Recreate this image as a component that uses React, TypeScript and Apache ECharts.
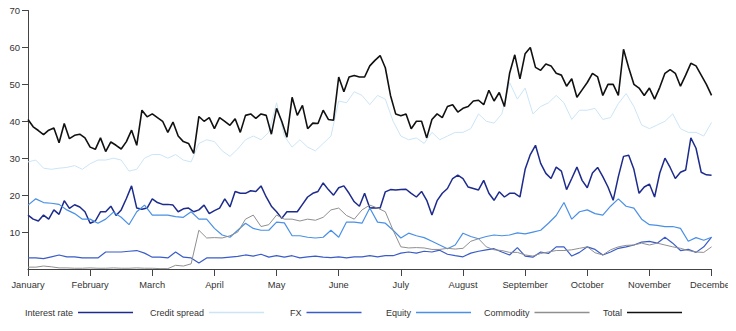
import React, { useEffect, useRef } from "react";
import * as echarts from "echarts";

const months = [
  "January", "February", "March", "April", "May", "June",
  "July", "August", "September", "October", "November", "December",
];

// Total and Interest rate: 12 readings per month (Jan..Nov) + 1 at December
const FINE_PER_MONTH = 12;
// Other series: 8 readings per month (Jan..Nov) + 1 at December
const COARSE_PER_MONTH = 8;

const total = [
  40.5, 38.5, 37.5, 36.4, 37.6, 38.2, 34.2, 39.4, 35.3, 36.2, 36.5, 35.5,
  33, 32.4, 35.5, 31.8, 34.4, 33.5, 32.5, 34.5, 37.6, 33.5, 43, 41.2,
  42, 41, 40, 37, 39.8, 36, 34.5, 34, 31.3, 41.3, 40, 41,
  38, 41, 40, 38.9, 40.7, 37, 41.6, 42, 40.8, 42, 41.6, 36.5,
  43.5, 40, 35.7, 46.5, 41.6, 44.3, 38, 39.5, 39.4, 43, 40.5, 40.3,
  52, 48, 52, 52.4, 52, 52, 55, 56.5, 57.8, 54.5, 47, 42,
  41.5, 42, 38, 40, 40, 35.5, 40.5, 42, 41, 44, 44.5, 42.5,
  43.5, 44, 45.5, 45.7, 44.5, 48.4, 45.5, 47.8, 44, 53, 58, 51.5,
  58.3, 60, 54.6, 53.8, 55.5, 55, 53, 52.5, 49.5, 51.5, 46.5, 48.5,
  50.5, 53, 52, 47, 50, 50, 47, 59.5, 54.5, 50, 49, 47,
  49, 46, 49.2, 53, 54, 53, 49.5, 52.5, 55.7, 55, 52.5, 50,
  47,
];
const interestRate = [
  14.6, 13.5, 13, 14.6, 13.5, 16, 14.8, 18.5, 16.4, 17.4, 16.8, 15.5,
  12.4, 13, 15.5, 15.5, 17, 14.5, 16, 19.1, 22.5, 16.5, 16.2, 16.5,
  19, 18, 17.5, 17.5, 17.3, 15.5, 16.3, 16.5, 15.5, 16, 17.3, 15,
  15.8, 16.5, 19, 16.8, 21, 20.5, 20.5, 21.2, 21, 22.5, 19.5, 17,
  15.5, 13.7, 15.5, 15.5, 15.5, 17.5, 19.5, 20.5, 21, 23.3, 21.5, 20,
  22, 22.5, 20.5, 18.2, 17, 20.5, 16.5, 16.6, 16.5, 20.9, 21.5, 21.4,
  21.5, 21.6, 20.5, 19.5, 21, 18.6, 14.6, 18.5, 20.5, 21.8, 24.5, 25.4,
  24.5, 22.2, 21.8, 21.4, 24, 20.5, 18.6, 20.9, 19.5, 20.5, 20.5, 19.5,
  27, 31, 33.5, 28.6, 25.9, 24.5, 27.6, 26.5, 21.5, 24.5, 27.6, 24,
  22, 26, 27.5, 25, 22.2, 18.6, 25, 30.5, 30.8, 27, 20.5, 22.2,
  23, 19.5, 26, 30, 27.5, 24.5, 26.2, 26.8, 35.5, 32.7, 26.2, 25.5,
  25.4,
];
const creditSpread = [
  29, 29.5, 27.3, 27, 27.3, 27.5, 28, 27,
  28.5, 29.5, 29.5, 30, 29.5, 26.5, 27, 30,
  31, 31, 30, 31, 29.5, 29, 34, 35,
  34.5, 32, 30.5, 32.5, 35, 36, 35, 37,
  45, 36, 33, 35, 33, 32, 34, 36,
  45.5, 45, 48, 47, 44.5, 47, 46, 40,
  36, 35, 35.5, 34, 37, 35, 36, 37,
  37, 38, 42, 40, 39.5, 42, 50.5, 46,
  49, 42, 44, 45, 47, 45, 40.5, 43,
  43, 43.5, 40.5, 41, 44.8, 47.5, 44, 39,
  38, 39, 40, 42, 38, 37, 37, 36,
  39.7,
];
const fx = [
  3, 3, 2.8, 3.3, 3.8, 3.3, 3.3, 3,
  3, 3, 4.6, 4.6, 4.6, 4.8, 5, 4.3,
  3.2, 3.2, 3, 4.6, 3.2, 3, 1.6, 3,
  3, 3, 3.2, 3.4, 3.8, 3.5, 4, 3.2,
  3.6, 3.2, 3.6, 3, 3.3, 3.5, 3.2, 3.1,
  3.3, 3, 3.3, 3.3, 3.6, 3.3, 3.6, 3.6,
  4.3, 4.6, 4.3, 4.8, 4.6, 5.1, 4, 3.6,
  3.3, 4.3, 4.8, 5.2, 5.5, 4.6, 3.8, 5.8,
  3.5, 3.2, 4.6, 4.2, 6, 6, 3.5, 4.5,
  6, 5.3, 3.8, 4.6, 5.6, 6, 6.5, 7.3,
  7.5, 7, 8.6, 7, 5, 5.3, 4.5, 6,
  8.6,
];
const equity = [
  17.3, 19, 18, 17.8, 17.5, 16, 15, 13.5,
  13.5, 12.4, 13.5, 15.4, 14, 12, 15.5, 17.3,
  14.6, 14.6, 14.6, 14.2, 14, 15.5, 13.5, 13.5,
  11, 9.2, 8.6, 10.5, 12.4, 11, 10.5, 10.5,
  12.7, 12.5, 9, 9, 8.6, 8.4, 8.6, 10.5,
  8.6, 12.7, 12.7, 12.4, 16.5, 12.7, 12.4, 10.5,
  8.4, 9.7, 9, 8.5, 7.5, 6.5, 5.5, 6.5,
  9.7, 8.8, 8.2, 8.8, 9.2, 9, 9.2, 9.8,
  9.5, 10, 10.5, 12.4, 14.5, 18, 13.5, 15.5,
  16, 15, 14.6, 17, 19, 17, 16.5, 13.5,
  12, 11.8, 11.5, 11.5, 11, 7.5, 8.5, 7.8,
  8.6,
];
const commodity = [
  0.5, 0.5, 0.8, 0.6, 0.3, 0.3, 0.2, 0.2,
  0.3, 0.2, 0.2, 0.3, 0.2, 0.2, 0.3, 0.2,
  0.2, 0.1, 0.1, 1, 0.8, 1.4, 10.5, 8.4,
  8.5, 8.4, 9, 10, 13.5, 14.6, 11.5, 12,
  14.6, 13.5, 13.5, 13, 13.5, 13.2, 14, 16,
  16.5, 14.5, 13.5, 16, 17.3, 16.5, 15.5, 10.5,
  6, 5.7, 5.8, 5.7, 5.3, 5.3, 5.6, 5.4,
  5.6, 7.5, 8.2, 6, 5.2, 5, 4.5, 4.5,
  3.8, 3.5, 4.2, 4.6, 5, 5, 5.2, 5.6,
  6, 4.4, 3.8, 5.2, 6, 6.4, 6.5, 7,
  6.5, 7, 6.5, 6, 5.6, 5, 4.6, 4.5,
  6,
];

const yMin = 0;
const yMax = 70;
const yInterval = 10;

const seriesDefs = [
  { name: "Interest rate", data: interestRate, perMonth: FINE_PER_MONTH, color: "#1c2b8c", width: 1.5 },
  { name: "Credit spread", data: creditSpread, perMonth: COARSE_PER_MONTH, color: "#cbe5f7", width: 1 },
  { name: "FX", data: fx, perMonth: COARSE_PER_MONTH, color: "#3a5cc8", width: 1.2 },
  { name: "Equity", data: equity, perMonth: COARSE_PER_MONTH, color: "#4a90e6", width: 1.2 },
  { name: "Commodity", data: commodity, perMonth: COARSE_PER_MONTH, color: "#8f8f8f", width: 1 },
  { name: "Total", data: total, perMonth: FINE_PER_MONTH, color: "#111111", width: 1.6 },
];

const legendLefts = [25, 150, 290, 386, 484, 603];

const FONT = "Liberation Sans, Arial, sans-serif";

export default function App() {
  const ref = useRef<HTMLDivElement>(null);
  useEffect(() => {
    if (!ref.current) return;
    const chart = echarts.init(ref.current, null, { renderer: "svg" });
    chart.setOption({
      animation: false,
      grid: { left: 28, right: 22, top: 10.5, bottom: 62, containLabel: false },
      legend: seriesDefs.map((s, i) => ({
        data: [s.name],
        left: legendLefts[i],
        top: 308,
        align: "right",
        icon: "rect",
        itemWidth: 55,
        itemHeight: 1.5,
        padding: 0,
        selectedMode: false,
        textStyle: { fontSize: 9, color: "#333", fontFamily: FONT },
      })),
      xAxis: {
        type: "value",
        min: 0,
        max: months.length - 1,
        interval: 1,
        axisLine: { show: true, lineStyle: { color: "#444", width: 1 } },
        axisTick: { show: true, length: 7, lineStyle: { color: "#444" } },
        axisLabel: {
          formatter: (v: number) => months[Math.round(v)] ?? "",
          fontSize: 9.3,
          color: "#333",
          margin: 11,
          fontFamily: FONT,
        },
        splitLine: { show: false },
      },
      yAxis: {
        type: "value",
        min: yMin,
        max: yMax,
        interval: yInterval,
        axisLine: { show: true, lineStyle: { color: "#444", width: 1 } },
        axisTick: { show: true, length: 6, lineStyle: { color: "#444" } },
        axisLabel: {
          showMinLabel: false,
          fontSize: 9.5,
          color: "#333",
          margin: 8,
          fontFamily: FONT,
        },
        splitLine: { show: false },
      },
      series: seriesDefs.map((s) => ({
        name: s.name,
        type: "line",
        data: s.data.map((v, i) => [i / s.perMonth, v]),
        symbol: "none",
        showSymbol: false,
        color: s.color,
        lineStyle: { color: s.color, width: s.width },
        itemStyle: { color: s.color },
      })),
    });
    return () => chart.dispose();
  }, []);
  return <div ref={ref} style={{ width: 736, height: 331, marginLeft: -8, marginTop: -8 }} />;
}
